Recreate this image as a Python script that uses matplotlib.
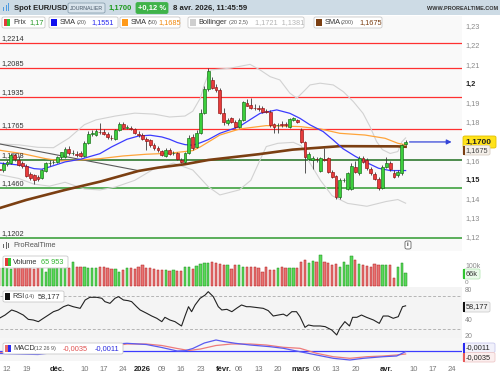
import numpy as np
import matplotlib.pyplot as plt
from matplotlib.patches import Rectangle, FancyBboxPatch

plt.rcParams['font.family'] = ['Liberation Sans', 'DejaVu Sans']

# ---- daily bars (index 0 = 10 nov. 2025, holidays 25/12 and 01/01 skipped) ----
opens = [1.1560, 1.1552, 1.1587, 1.1590, 1.1631, 1.1608, 1.1590, 1.1573, 1.1535, 1.1527,
         1.1516, 1.1513, 1.1551, 1.1589, 1.1595, 1.1598, 1.1620, 1.1622, 1.1665, 1.1640,
         1.1638, 1.1644, 1.1627, 1.1697, 1.1743, 1.1738, 1.1752, 1.1751, 1.1743, 1.1722,
         1.1716, 1.1760, 1.1795, 1.1774, 1.1774, 1.1767, 1.1740, 1.1738, 1.1716, 1.1708,
         1.1685, 1.1668, 1.1651, 1.1627, 1.1660, 1.1640, 1.1641, 1.1608, 1.1594, 1.1641,
         1.1727, 1.1675, 1.1748, 1.1853, 1.1974, 1.2023, 1.1988, 1.1971, 1.1849, 1.1797,
         1.1823, 1.1806, 1.1780, 1.1815, 1.1905, 1.1893, 1.1878, 1.1876, 1.1876, 1.1860,
         1.1858, 1.1792, 1.1786, 1.1792, 1.1794, 1.1780, 1.1815, 1.1815, 1.1763, 1.1698,
         1.1613, 1.1607, 1.1613, 1.1550, 1.1611, 1.1615, 1.1546, 1.1521, 1.1412, 1.1500,
         1.1454, 1.1454, 1.1572, 1.1537, 1.1615, 1.1607, 1.1559, 1.1533, 1.1506, 1.1459,
         1.1572, 1.1590, 1.1540, 1.1530, 1.1537, 1.1690]
highs = [1.1585, 1.1595, 1.1605, 1.1640, 1.1640, 1.1625, 1.1600, 1.1585, 1.1545, 1.1535,
         1.1530, 1.1560, 1.1595, 1.1605, 1.1608, 1.1625, 1.1650, 1.1672, 1.1680, 1.1660,
         1.1655, 1.1655, 1.1705, 1.1755, 1.1760, 1.1765, 1.1801, 1.1765, 1.1750, 1.1735,
         1.1765, 1.1805, 1.1805, 1.1790, 1.1785, 1.1775, 1.1755, 1.1745, 1.1725, 1.1715,
         1.1692, 1.1680, 1.1660, 1.1670, 1.1668, 1.1655, 1.1648, 1.1615, 1.1650, 1.1735,
         1.1740, 1.1760, 1.1870, 1.1990, 1.2085, 1.2040, 1.2000, 1.1980, 1.1875, 1.1825,
         1.1830, 1.1815, 1.1825, 1.1912, 1.1925, 1.1927, 1.1900, 1.1890, 1.1885, 1.1870,
         1.1865, 1.1800, 1.1800, 1.1808, 1.1805, 1.1825, 1.1830, 1.1822, 1.1775, 1.1705,
         1.1650, 1.1625, 1.1622, 1.1620, 1.1667, 1.1622, 1.1555, 1.1530, 1.1510, 1.1510,
         1.1545, 1.1590, 1.1600, 1.1625, 1.1625, 1.1615, 1.1570, 1.1545, 1.1515, 1.1580,
         1.1624, 1.1600, 1.1552, 1.1552, 1.1690, 1.1710]
lows = [1.1545, 1.1545, 1.1575, 1.1585, 1.1600, 1.1575, 1.1565, 1.1520, 1.1500, 1.1480,
        1.1495, 1.1505, 1.1545, 1.1575, 1.1585, 1.1590, 1.1610, 1.1618, 1.1630, 1.1630,
        1.1620, 1.1620, 1.1622, 1.1690, 1.1730, 1.1730, 1.1740, 1.1735, 1.1715, 1.1710,
        1.1710, 1.1755, 1.1770, 1.1765, 1.1760, 1.1740, 1.1725, 1.1710, 1.1659, 1.1675,
        1.1660, 1.1650, 1.1625, 1.1620, 1.1632, 1.1632, 1.1605, 1.1588, 1.1590, 1.1635,
        1.1660, 1.1668, 1.1740, 1.1845, 1.1965, 1.1975, 1.1960, 1.1845, 1.1790, 1.1790,
        1.1800, 1.1772, 1.1772, 1.1810, 1.1885, 1.1870, 1.1865, 1.1862, 1.1850, 1.1850,
        1.1780, 1.1745, 1.1748, 1.1780, 1.1780, 1.1775, 1.1810, 1.1800, 1.1695, 1.1537,
        1.1605, 1.1558, 1.1595, 1.1545, 1.1600, 1.1540, 1.1510, 1.1405, 1.1405, 1.1490,
        1.1450, 1.1450, 1.1540, 1.1530, 1.1590, 1.1555, 1.1530, 1.1500, 1.1450, 1.1455,
        1.1565, 1.1550, 1.1510, 1.1520, 1.1530, 1.1685]
closes = [1.1555, 1.1587, 1.1595, 1.1631, 1.1612, 1.1582, 1.1573, 1.1525, 1.1510, 1.1501,
          1.1509, 1.1553, 1.1589, 1.1592, 1.1597, 1.1620, 1.1646, 1.1665, 1.1640, 1.1645,
          1.1630, 1.1627, 1.1697, 1.1743, 1.1745, 1.1755, 1.1750, 1.1743, 1.1727, 1.1719,
          1.1760, 1.1795, 1.1774, 1.1778, 1.1767, 1.1746, 1.1738, 1.1716, 1.1704, 1.1682,
          1.1668, 1.1660, 1.1634, 1.1660, 1.1639, 1.1644, 1.1613, 1.1594, 1.1641, 1.1722,
          1.1670, 1.1748, 1.1853, 1.1974, 1.2072, 1.1981, 1.1971, 1.1849, 1.1806, 1.1815,
          1.1806, 1.1780, 1.1815, 1.1910, 1.1888, 1.1876, 1.1876, 1.1870, 1.1858, 1.1856,
          1.1789, 1.1780, 1.1790, 1.1786, 1.1790, 1.1818, 1.1823, 1.1806, 1.1702, 1.1624,
          1.1635, 1.1615, 1.1609, 1.1615, 1.1608, 1.1546, 1.1516, 1.1412, 1.1502, 1.1502,
          1.1537, 1.1575, 1.1546, 1.1615, 1.1598, 1.1563, 1.1537, 1.1506, 1.1459, 1.1572,
          1.1590, 1.1558, 1.1516, 1.1545, 1.1684, 1.1700]
volumes = [93, 95, 93, 90, 93, 95, 92, 93, 95, 90, 93, 92, 75, 100, 98, 95, 93, 98,
           93, 128, 102, 102, 102, 93, 93, 93, 102, 98, 93, 88, 88, 75, 84, 93, 93, 88,
           102, 110, 93, 93, 88, 84, 84, 84, 81, 84, 81, 81, 98, 102, 88, 105, 116, 119,
           123, 128, 123, 116, 110, 110, 88, 110, 110, 102, 100,
           102, 102, 93, 75, 102, 84, 84, 93, 98, 93, 93, 93, 93, 128, 137, 123, 133, 125,
           163, 128, 123, 110, 116, 102, 128, 110, 158, 137, 116, 110, 107, 102, 116, 110,
           110, 110, 110, 44, 98, 119, 66]

# ---- indicator lines (bar index, value) ----
sma20_x = [0, 3, 6, 9, 11, 13, 17, 21, 26, 29, 33, 36, 39, 42, 44, 46, 48, 50, 52, 54,
           57, 62, 67.4, 71.7, 75.1, 77.7, 80.3, 83.7, 86.3, 88.8, 92, 95, 98, 101, 105]
sma20_y = [1.1590, 1.1584, 1.1578, 1.1561, 1.1558, 1.1570, 1.1596, 1.1610, 1.1639, 1.1674,
           1.1714, 1.1731, 1.1735, 1.1726, 1.1714, 1.1697, 1.1686, 1.1683, 1.1696, 1.1712,
           1.1745, 1.1780, 1.1849, 1.1867, 1.1849, 1.1823, 1.1789, 1.1754, 1.1710, 1.1665,
           1.1625, 1.1592, 1.1563, 1.1551, 1.1551]
sma50_x = [0, 6, 12, 16, 20, 26, 32, 38, 44, 50, 52, 57, 62.2, 69, 77.7, 82.9, 88, 94.5,
           99.7, 103, 105]
sma50_y = [1.1657, 1.1639, 1.1613, 1.1601, 1.1605, 1.1613, 1.1627, 1.1636, 1.1641, 1.1655,
           1.1675, 1.1736, 1.1768, 1.1785, 1.1780, 1.1768, 1.1745, 1.1736, 1.1719, 1.1693,
           1.1685]
sma200_x = [0, 7, 17, 26, 36, 41, 48, 54, 67, 75.8, 88, 103, 105]
sma200_y = [1.1355, 1.1398, 1.1450, 1.1493, 1.1549, 1.1566, 1.1584, 1.1606, 1.1636, 1.1660,
            1.1678, 1.1677, 1.1675]
boll_up_x = [0, 5, 10, 14, 18, 22, 25, 30, 35, 40, 44, 48, 50, 52, 53, 54.5, 59.6, 64.8,
             67.4, 70, 72.5, 75.1, 76.9, 78.6, 80.3, 82.9, 86.3, 88.9, 91.5, 94, 95.8, 97.5,
             99, 101, 103, 104, 105]
boll_up_y = [1.1690, 1.1685, 1.1672, 1.1670, 1.1720, 1.1790, 1.1815, 1.1835, 1.1850, 1.1845,
             1.1830, 1.1835, 1.1860, 1.1930, 1.2000, 1.2075, 1.2084, 1.2104, 1.2075, 1.2040,
             1.2023, 1.1954, 1.1928, 1.1962, 1.1997, 1.2006, 1.1997, 1.1962, 1.1910, 1.1849,
             1.1780, 1.1702, 1.1660, 1.1640, 1.1650, 1.1700, 1.1721]
boll_lo_x = [0, 5, 9, 13, 17, 22, 26, 30, 35, 40, 45, 50, 54, 57, 62, 65, 67, 69, 72, 76,
             78, 80, 83, 86, 90, 95, 100, 103, 105]
boll_lo_y = [1.1530, 1.1510, 1.1480, 1.1470, 1.1490, 1.1455, 1.1450, 1.1465, 1.1500, 1.1560,
             1.1590, 1.1554, 1.1467, 1.1424, 1.1450, 1.1500, 1.1589, 1.1676, 1.1693, 1.1698,
             1.1680, 1.1600, 1.1500, 1.1420, 1.1380, 1.1365, 1.1390, 1.1400, 1.1381]
trend_x = [0, 36.4]
trend_y = [1.1690, 1.1549]
rsi_x = [0, 1.5, 3.2, 4.5, 6.2, 7.5, 8.8, 10.1, 11.4, 12.7, 14, 15.3, 16.6, 17.8, 19.1, 20.9,
         22.2, 23.4, 25.2, 26.5, 27.3, 28.6, 29.9, 30.8, 32.1, 33.3, 34.2, 35.5, 36.4, 38.1,
         39.4, 40.7, 42, 42.8, 44.1, 45.4, 46.7, 47.1, 48, 48.9, 49.7, 50.6, 51.9, 53.2, 54,
         55.3, 56.6, 57.5, 58.8, 60.1, 61.3, 62.6, 63.9, 64.8, 68.2, 69.5, 70.8, 72.1, 73.4,
         74.3, 75.6, 76.8, 77.7, 79, 79.9, 81.2, 82.9, 84.2, 85.9, 87.2, 88, 89.3, 90.5, 91.3,
         92.4, 93.6, 94.9, 96.7, 98.2, 99.2, 100.5, 101.8, 103.1, 104.2, 105]
rsi_y = [42.9, 46.9, 53.1, 51.0, 46.9, 41.6, 40.8, 38.8, 42.9, 46.9, 51.0, 53.1, 57.1, 59.2,
         57.1, 55.1, 65.3, 68.6, 68.6, 67.4, 63.3, 61.2, 67.4, 69.4, 65.3, 64.5, 63.3, 57.1,
         53.1, 49.0, 45.7, 42.9, 38.8, 44.1, 40.8, 38.8, 34.7, 33.5, 45.7, 57.1, 51.0, 59.2,
         67.4, 71.4, 75.5, 69.4, 57.1, 53.1, 53.9, 51.0, 55.1, 59.2, 57.1, 57.1, 55.1, 52.3,
         45.7, 46.9, 48.0, 45.7, 51.0, 51.0, 44.9, 31.8, 34.7, 33.5, 33.5, 32.7, 28.6, 22.5,
         30.6, 38.8, 33.5, 44.1, 44.1, 46.9, 44.1, 40.8, 36.7, 45.7, 45.7, 42.9, 44.9, 57.1,
         58.177]
macd_x = [0, 10, 16, 22, 28, 33, 38, 42, 46, 48, 50, 53, 56, 58, 61, 64.8, 70, 73.4, 77.7,
          82, 86.3, 90.6, 94.1, 99.2, 102.7, 105]
macd_y = [-0.0030, -0.0040, -0.0010, 0.0030, 0.0060, 0.0072, 0.0060, 0.0030, -0.0005,
          -0.0002, 0.0020, 0.0075, 0.0105, 0.0090, 0.0072, 0.0055, 0.0038, 0.0022, -0.0012,
          -0.0045, -0.0078, -0.0095, -0.0078, -0.0062, -0.0055, -0.0011]
signal_x = [0, 10, 16, 22, 28, 33, 38, 42, 46, 49, 52, 56, 60, 64.8, 69, 73.4, 77.7, 82,
            86.3, 90.6, 95, 99.2, 102.7, 105]
signal_y = [-0.0020, -0.0030, -0.0020, 0.0010, 0.0040, 0.0065, 0.0065, 0.0050, 0.0020,
            0.0000, 0.0015, 0.0050, 0.0065, 0.0065, 0.0055, 0.0032, 0.0022, -0.0028, -0.0062,
            -0.0078, -0.0062, -0.0055, -0.0045, -0.0035]

res_levels = [1.2214, 1.2085, 1.1935, 1.1765]
sup_levels = [1.1608, 1.1460, 1.1202]
sup_colors = ['#1f6e1f', '#2f9a2f', '#2f9a2f']
price_ticks = [1.23, 1.22, 1.21, 1.20, 1.19, 1.18, 1.16, 1.15, 1.14, 1.13, 1.12]
price_tick_labels = ['1,23', '1,22', '1,21', '1,2', '1,19', '1,18', '1,16', '1,15',
                     '1,14', '1,13', '1,12']
date_ticks = [2, 7, 15, 22, 27, 32, 37, 42, 47, 52, 58, 62, 67, 72, 78, 82, 87, 92, 100,
              107, 112, 117]
date_labels = ['12', '19', 'déc.', '10', '17', '24', '2026', '09', '16', '23', 'févr.', '06',
               '13', '20', 'mars', '06', '13', '20', 'avr.', '10', '17', '24']
bold_dates = ['déc.', '2026', 'févr.', 'mars', 'avr.']

W, H = 500, 375
fig = plt.figure(figsize=(5, 3.75), dpi=100)
fig.patch.set_facecolor('white')


def fx(x):
    return x / W


def fy(y):
    return 1 - y / H


def panel(top, bottom, bg):
    ax = fig.add_axes([0, fy(bottom), 462 / W, (bottom - top) / H])
    ax.set_facecolor(bg)
    ax.set_xlim(0.19, 119.57)
    for s in ax.spines.values():
        s.set_visible(False)
    ax.set_xticks([])
    ax.set_yticks([])
    return ax


def txt(x, y, s, size=5.3, color='#333333', **kw):
    fig.text(fx(x), fy(y), s, fontsize=size, color=color, va='center', **kw)


def rbox(x0, y0, x1, y1, fc='white', ec='#c9c9c9', lw=0.6):
    p = FancyBboxPatch((fx(x0), fy(y1)), fx(x1) - fx(x0), fy(y0) - fy(y1),
                       boxstyle='round,pad=0,rounding_size=0.004',
                       transform=fig.transFigure, fc=fc, ec=ec, lw=lw, zorder=2)
    fig.patches.append(p)


def chip(x0, y0, w, h, color):
    fig.patches.append(Rectangle((fx(x0), fy(y0 + h)), w / W, h / H,
                                 transform=fig.transFigure, fc=color, ec='none', zorder=3))


idx = np.arange(len(closes))
up = np.array(closes) >= np.array(opens)

# ---- price panel ----
ax = panel(16, 251, '#f9f9f9')
ax.set_ylim(1.1132, 1.2356)
for lv in res_levels:
    ax.axhline(lv, color='#ff3030', lw=0.9, zorder=1)
for lv, c in zip(sup_levels, sup_colors):
    ax.axhline(lv, color=c, lw=1.1, zorder=1)
ax.plot(boll_up_x, boll_up_y, color='#d2d2d2', lw=0.8, zorder=2)
ax.plot(boll_lo_x, boll_lo_y, color='#d2d2d2', lw=0.8, zorder=2)
ax.plot(trend_x, trend_y, color='#5a5a5a', lw=0.8, zorder=2)
ax.plot(sma200_x, sma200_y, color='#7b3f12', lw=1.9, zorder=3)
ax.plot(sma50_x, sma50_y, color='#ffa43a', lw=0.9, zorder=3)
ax.plot(sma20_x, sma20_y, color='#3b3bff', lw=0.9, zorder=3)
ax.vlines(idx, lows, highs, color='#3a3a3a', lw=0.6, zorder=4)
for i in idx:
    o, c = opens[i], closes[i]
    fc, ec = ('#3ccf3c', '#146b14') if up[i] else ('#e83b3b', '#8e1010')
    h = max(abs(c - o), 0.00025)
    ax.add_patch(Rectangle((i - 0.37, min(o, c)), 0.74, h, fc=fc, ec=ec, lw=0.45, zorder=5))
ax.annotate('', xy=(117.6, 1.1700), xytext=(105.3, 1.1700),
            arrowprops=dict(arrowstyle='-|>', color='#3545d8', lw=0.9, mutation_scale=7),
            zorder=6)
ytr = ax.get_yaxis_transform()
for v, s in zip(price_ticks, price_tick_labels):
    bold = s in ('1,2', '1,15')
    ax.text(1.008, v, s, transform=ytr, fontsize=5.3, va='center', clip_on=False,
            color='#222222' if bold else '#8a8a8a', fontweight='bold' if bold else 'normal')
for lv in res_levels + sup_levels:
    s = f'{lv:.4f}'.replace('.', ',')
    ax.text(0.004, lv + 0.0022, s, transform=ytr, fontsize=5.3, color='#333333', va='center')
# price tags
rbox(463, 136, 496, 148, fc='#ffe21a', ec='#e0c000')
txt(465, 142, '1,1700', size=6, color='#222222', fontweight='bold')
rbox(463, 145.5, 490, 155, fc='#f4efe9', ec='#d8cfc5')
chip(463, 145.5, 1.5, 9.5, '#7b3f12')
txt(465.5, 150.5, '1,1675', size=5.3, color='#444444')
chip(3, 244, 1, 4, '#666666')
chip(5.5, 242, 1, 7, '#666666')
chip(8, 243, 1, 5, '#666666')
txt(13, 245.5, 'ProRealTime', size=5.3, color='#555555')
rbox(405, 241, 411, 249, fc='white', ec='#666666')
txt(406.7, 245, 'i', size=4.5, color='#333333', fontweight='bold')

# ---- volume panel ----
axv = panel(251, 287, '#ffffff')
axv.set_ylim(-5.3, 184)
axv.bar(idx, volumes, width=0.6, color=np.where(up, '#5ad85a', '#e87474'),
        edgecolor=np.where(up, '#1b8f1b', '#b01c1c'), lw=0.35)
txt(465, 266.5, '100k', size=5, color='#8a8a8a')
rbox(463, 269, 480, 279, fc='#eafbea', ec='#b8e8b8')
chip(463, 269, 1.5, 10, '#2fc52f')
txt(465.5, 274, '66k', size=5.3, color='#333333')
txt(465, 282.5, '0', size=4.6, color='#8a8a8a')

# ---- RSI panel ----
axr = panel(287, 338, '#f4f4f4')
axr.set_ylim(18.78, 81.22)
axr.axhline(70, color='#b5b5b5', lw=0.7, ls=(0, (3, 2)))
axr.axhline(30, color='#b5b5b5', lw=0.7, ls=(0, (3, 2)))
axr.plot(rsi_x, rsi_y, color='#222222', lw=0.8)
txt(465, 290, '80', size=4.8, color='#8a8a8a')
txt(465, 320, '40', size=5, color='#8a8a8a')
txt(465, 336.5, '20', size=5, color='#8a8a8a')
rbox(463, 302, 490, 312, fc='#f2f2f2', ec='#cfcfcf')
chip(463, 302, 1.5, 10, '#111111')
txt(465.5, 307, '58,177', size=5.3, color='#222222')

# ---- MACD panel ----
axm = panel(338, 361, '#f6f6f6')
axm.set_ylim(-0.0105, 0.0125)
axm.axhline(0, color='#3b3bff', lw=0.9)
axm.plot(signal_x, signal_y, color='#ee7b7b', lw=0.9)
axm.plot(macd_x, macd_y, color='#5a5af0', lw=0.9)
rbox(463, 343, 495, 352.5, fc='#f1f1fb', ec='#c9c9ee')
chip(463, 343, 1.5, 9.5, '#2a2af0')
txt(465.5, 348, '-0,0011', size=5.3, color='#222222')
rbox(463, 352.5, 495, 362, fc='#fbeeee', ec='#eec9c9')
chip(463, 352.5, 1.5, 9.5, '#e85a5a')
txt(465.5, 357.5, '-0,0035', size=5.3, color='#222222')

# ---- date axis ----
xtr = axm.get_xaxis_transform()
for t, s in zip(date_ticks, date_labels):
    b = s in bold_dates
    axm.text(t, -0.38, s, transform=xtr, ha='center', va='center', fontsize=5.5,
             clip_on=False, color='#222222' if b else '#777777',
             fontweight='bold' if b else 'normal')

# ---- header ----
fig.patches.append(Rectangle((0, fy(15)), 1, 15 / H, transform=fig.transFigure,
                             fc='#cddbe5', ec='none', zorder=1))
chip(3, 7, 1.3, 4, '#4f9be0')
chip(5.5, 5, 1.3, 6, '#4f9be0')
chip(8, 3, 1.3, 8, '#4f9be0')
txt(14, 8, 'Spot EUR/USD', size=5.5, color='#222222', fontweight='bold')
rbox(68, 3, 105, 13, fc='#d9e4ec', ec='#8aa0b0')
txt(70, 8, 'JOURNALIER', size=3.8, color='#445566')
txt(109, 8, '1,1700', size=5.5, color='#1f9a1f', fontweight='bold')
rbox(136, 2.5, 168, 13.5, fc='#3fb34a', ec='#3fb34a')
txt(138.5, 8, '+0,12 %', size=5.5, color='white', fontweight='bold')
txt(173, 8, '8 avr. 2026, 11:45:59', size=5.6, color='#222222', fontweight='bold')
txt(498, 9, 'WWW.PROREALTIME.COM', size=4, color='#333333', ha='right',
    fontweight='bold')

# ---- legend row ----
rbox(2, 17, 45, 28)
chip(4, 19, 3, 7, '#e23b3b')
chip(7, 19, 3, 7, '#34c234')
txt(13, 22.5, 'Prix', size=5.3)
txt(29, 22.5, '1,17', size=5.3, color='#2a9a2a')
rbox(49, 17, 118, 28)
chip(51, 19, 6, 7, '#1010ee')
txt(60, 22.5, 'SMA', size=5.3)
txt(77, 22.5, '(20)', size=4, color='#555555')
txt(91, 22.5, '1,1551', size=5.3, color='#2a2aee')
rbox(120, 17, 180, 28)
chip(122, 19, 6, 7, '#ff9a1a')
txt(131, 22.5, 'SMA', size=5.3)
txt(148, 22.5, '(50)', size=4, color='#555555')
txt(158, 22.5, '1,1685', size=5.3, color='#f08a10')
rbox(188, 17, 304, 28)
chip(190, 19, 6, 7, '#cfcfcf')
txt(198, 22.5, 'Bollinger', size=5.3)
txt(229, 22.5, '(20 2,5)', size=4, color='#555555')
txt(255, 22.5, '1,1721  1,1381', size=5.3, color='#b5b5b5')
rbox(314, 17, 382, 28)
chip(316, 19, 6, 7, '#7b3f12')
txt(325, 22.5, 'SMA', size=5.3)
txt(341, 22.5, '(200)', size=4, color='#555555')
txt(359, 22.5, '1,1675', size=5.3, color='#7b3f12')

# ---- panel legends ----
rbox(3, 256, 68, 268)
chip(5, 258, 3, 8, '#e23b3b')
chip(8, 258, 3, 8, '#34c234')
txt(13, 262, 'Volume', size=5.3)
txt(41, 262, '65 953', size=5.3, color='#2fb52f')
rbox(3, 291, 64, 302)
chip(5, 293, 5, 7, '#111111')
txt(12, 296.5, 'RSI', size=5.3)
txt(25, 296.5, '(14)', size=4, color='#555555')
txt(38, 296.5, '58,177', size=5.3)
rbox(3, 343, 123, 354)
chip(5, 345, 3, 7, '#e86a6a')
chip(8, 345, 3, 7, '#2a2af0')
txt(13, 348.5, 'MACD', size=5.3)
txt(34, 348.5, '(12 26 9)', size=4, color='#555555')
txt(63, 348.5, '-0,0035', size=5.3, color='#e05050')
txt(95, 348.5, '-0,0011', size=5.3, color='#2a2ae0')

fig.savefig('out.png', dpi=100)
